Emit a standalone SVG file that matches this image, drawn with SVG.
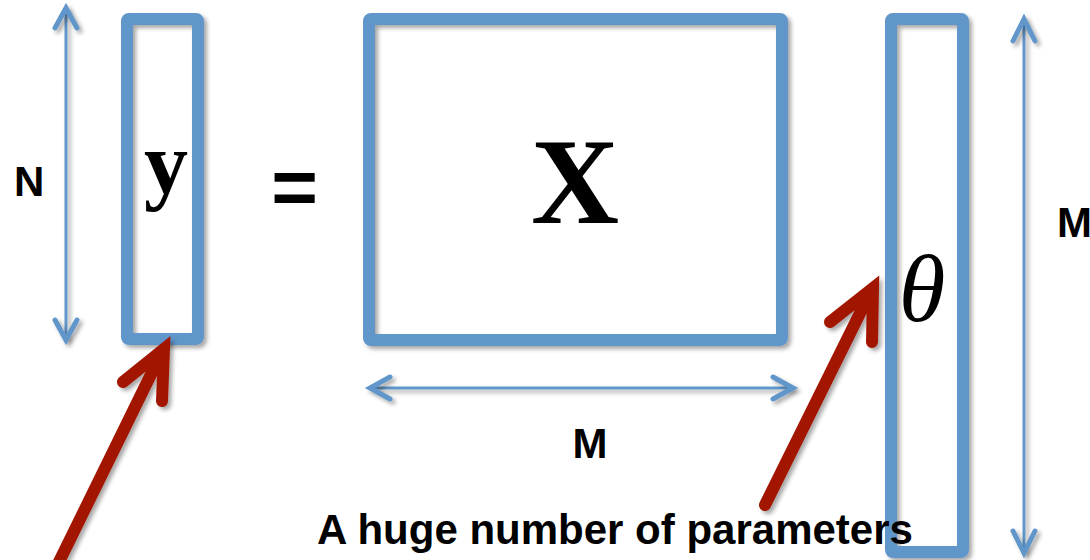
<svg xmlns="http://www.w3.org/2000/svg" width="1090" height="560" viewBox="0 0 1090 560">
<defs>
<filter id="sh" filterUnits="userSpaceOnUse" x="0" y="0" width="1090" height="560">
<feDropShadow dx="3" dy="3" stdDeviation="2" flood-color="#000" flood-opacity="0.35"/>
</filter>
</defs>
<style>
.box{fill:none;stroke:#6196C9;stroke-width:12;stroke-linejoin:round;filter:url(#sh)}
.dim{fill:none;stroke:#6196C9;stroke-width:3;stroke-linecap:round;filter:url(#sh)}
.head{fill:none;stroke:#6196C9;stroke-width:5;stroke-linecap:round;stroke-linejoin:miter;filter:url(#sh)}
.red{fill:none;stroke:#A21600;stroke-width:12;stroke-linecap:round;stroke-linejoin:miter;filter:url(#sh)}
.lbl{font-family:"Liberation Sans",Arial,sans-serif;font-weight:bold;font-size:42px;fill:#000}
.math{font-family:"Liberation Serif","Times New Roman",serif;fill:#000}
</style>
<rect width="1090" height="560" fill="#fff"/>
<g id="node-y">
<rect class="box" x="127" y="19" width="71" height="320" rx="2"/>
<text class="math" x="166" y="193" font-size="88" font-weight="bold" text-anchor="middle">y</text>
</g>
<g id="node-eq">
<text class="lbl" x="294.5" y="214" text-anchor="middle" style="font-size:80px">=</text>
</g>
<g id="node-X">
<rect class="box" x="369" y="19" width="413" height="321" rx="2"/>
<text class="math" x="575" y="223" font-size="122" font-weight="bold" text-anchor="middle">X</text>
</g>
<g id="node-theta">
<rect class="box" x="891" y="19" width="72" height="533" rx="2"/>
<text class="math" x="922" y="321" font-size="95" font-style="italic" text-anchor="middle">θ</text>
</g>
<g id="connectors">
<line class="dim" x1="66" y1="10" x2="66" y2="338"/>
<path class="head" d="M55,28 L66,8 L77,28 M55,320 L66,340 L77,320"/>
<line class="dim" x1="372" y1="388" x2="791" y2="388"/>
<path class="head" d="M390,377 L370,388 L390,399 M773,377 L793,388 L773,399"/>
<line class="dim" x1="1024" y1="21" x2="1024" y2="551"/>
<path class="head" d="M1013,41 L1024,19 L1035,41 M1013,531 L1024,553 L1035,531"/>
<path class="red" d="M57,566 L160,356 M123,382 L164,349 L162,401"/>
<path class="red" d="M765,505 L869,295 M830,322 L873,288 L872,342"/>
</g>
<g id="labels">
<text class="lbl" x="14" y="196">N</text>
<text class="lbl" x="590" y="458" text-anchor="middle">M</text>
<text class="lbl" x="1057" y="237">M</text>
<text class="lbl" x="317" y="544">A huge number of parameters</text>
</g>
</svg>
